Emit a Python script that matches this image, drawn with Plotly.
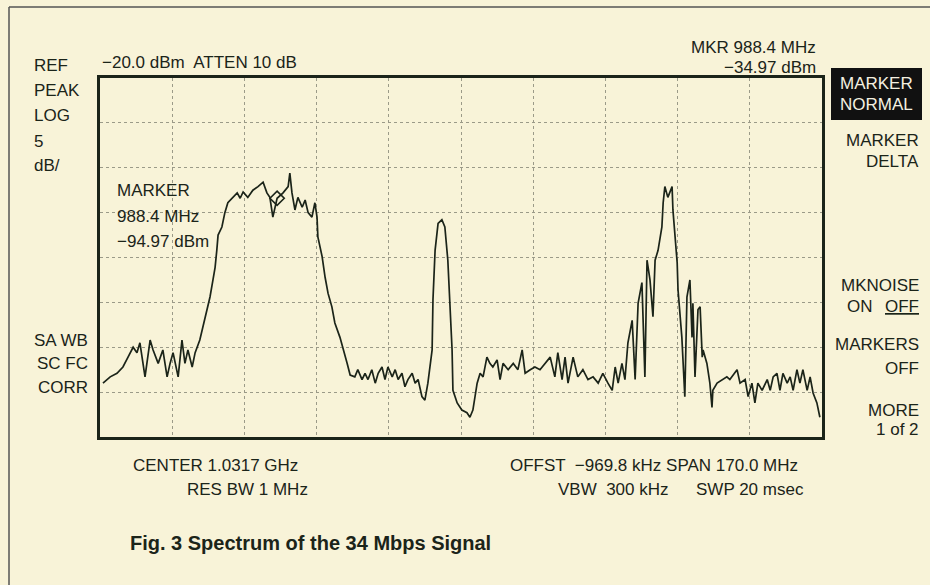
"""Spectrum analyzer screen: Fig. 3 Spectrum of the 34 Mbps Signal."""
import plotly.graph_objects as go

# Sweep settings
center_mhz = 1031.7
span_mhz = 170.0
ref_dbm = -20.0
db_per_div = 5.0

# Trace (frequency in MHz, level in dBm)
freq_mhz = [
    947.4, 949.1, 950.7, 952.1, 953.3, 954.5, 955.4, 956.1, 957.3, 958.5,
    959.2, 960.4, 961.5, 962.5, 963.2, 963.9, 965.1, 966.0, 966.7, 967.4,
    968.4, 969.1, 970.2, 971.0, 971.9, 972.6, 973.3, 973.8, 974.2, 974.5,
    975.4, 976.1, 976.8, 978.0, 979.0, 979.7, 980.4, 981.5, 982.7, 983.9,
    985.1, 986.0, 986.7, 987.4, 988.4, 989.8, 991.0, 991.4, 991.9, 992.6,
    993.3, 994.3, 995.0, 995.7, 996.6, 997.3, 997.8, 998.0, 999.0, 999.7,
    1000.4, 1001.3, 1002.0, 1003.2, 1003.9, 1004.9, 1005.6, 1006.7, 1007.4, 1008.4,
    1009.1, 1009.8, 1010.7, 1011.5, 1012.2, 1013.1, 1013.8, 1014.5, 1015.5, 1016.2,
    1016.9, 1017.8, 1018.5, 1019.2, 1020.2, 1020.9, 1021.6, 1022.5, 1023.2, 1023.9,
    1024.9, 1025.1, 1025.6, 1026.3, 1027.2, 1027.9, 1028.6, 1029.1, 1029.6, 1029.8,
    1030.8, 1031.9, 1033.1, 1033.8, 1034.5, 1035.5, 1036.2, 1036.9, 1037.8, 1038.5,
    1039.2, 1040.2, 1040.9, 1041.6, 1042.8, 1044.0, 1045.1, 1046.1, 1046.8, 1048.0,
    1049.1, 1050.3, 1051.5, 1052.7, 1053.8, 1054.5, 1055.5, 1056.2, 1056.9, 1058.1,
    1059.2, 1060.4, 1061.6, 1062.8, 1064.0, 1065.1, 1066.3, 1067.3, 1068.0, 1068.7,
    1069.6, 1070.3, 1071.0, 1072.0, 1072.7, 1073.4, 1074.3, 1075.0, 1075.5, 1076.2,
    1076.9, 1077.4, 1078.1, 1079.0, 1079.3, 1079.7, 1080.4, 1081.4, 1081.6, 1082.1,
    1082.6, 1082.8, 1083.7, 1084.4, 1084.9, 1085.6, 1086.1, 1086.3, 1086.8, 1087.5,
    1088.0, 1088.5, 1088.7, 1089.6, 1090.3, 1090.8, 1091.0, 1092.0, 1093.2, 1094.3,
    1095.0, 1096.7, 1097.4, 1098.6, 1099.3, 1100.2, 1100.9, 1101.6, 1102.6, 1103.8,
    1104.5, 1105.2, 1106.1, 1106.8, 1107.5, 1108.5, 1109.2, 1109.9, 1110.8, 1111.5,
    1112.2, 1113.2, 1113.9, 1114.6, 1115.5, 1116.2,
]
level_dbm = [
    -54.0, -53.3, -52.9, -52.2, -51.1, -50.0, -50.6, -49.5, -53.3, -49.2,
    -50.3, -51.8, -50.3, -53.3, -51.8, -50.6, -53.3, -49.2, -51.8, -50.3,
    -52.2, -50.6, -49.2, -47.7, -45.8, -44.4, -42.5, -41.1, -39.2, -37.5,
    -36.6, -35.0, -33.9, -33.3, -32.8, -33.4, -32.7, -33.3, -32.5, -32.1,
    -31.6, -32.8, -33.3, -35.5, -33.4, -32.8, -32.1, -30.6, -32.8, -34.7,
    -33.3, -34.4, -33.6, -35.0, -35.5, -33.9, -35.5, -37.7, -39.9, -42.2,
    -44.0, -45.5, -47.3, -48.9, -50.0, -51.8, -53.1, -53.3, -52.5, -53.6,
    -52.9, -53.6, -52.5, -54.0, -52.9, -52.2, -53.6, -52.2, -53.3, -52.5,
    -53.6, -52.9, -54.4, -53.6, -52.9, -54.0, -53.6, -55.5, -55.9, -54.0,
    -50.3, -44.7, -39.2, -36.2, -35.8, -36.6, -40.3, -44.7, -50.3, -54.8,
    -56.2, -57.0, -57.3, -57.8, -57.0, -54.0, -52.9, -53.3, -51.1, -51.8,
    -52.2, -51.4, -53.6, -51.8, -52.5, -51.8, -52.5, -50.3, -52.9, -52.5,
    -52.2, -52.5, -51.8, -51.1, -53.3, -50.6, -53.6, -51.1, -54.0, -51.1,
    -53.3, -52.5, -53.6, -53.3, -54.0, -52.9, -54.0, -54.8, -52.2, -54.0,
    -51.8, -53.6, -49.5, -47.0, -53.6, -45.1, -42.8, -53.3, -40.3, -42.5,
    -46.6, -40.3, -39.2, -36.6, -33.9, -32.1, -33.3, -32.1, -34.7, -37.3,
    -40.6, -43.6, -48.9, -55.5, -44.4, -42.5, -48.9, -45.1, -53.3, -45.8,
    -45.5, -51.1, -50.3, -51.8, -54.0, -56.7, -54.8, -54.0, -53.6, -53.3,
    -53.6, -52.5, -54.0, -53.6, -55.5, -54.0, -56.2, -54.0, -54.8, -53.6,
    -54.8, -53.3, -52.9, -54.8, -52.9, -54.0, -53.3, -54.8, -52.5, -54.0,
    -52.5, -54.8, -53.3, -55.1, -56.2, -57.8,
]

marker_freq = [988.4]
marker_level = [-33.4]

PAPER = '#f8f3d8'
INK = '#1b2419'
FONT = 'Liberation Sans, Arial, sans-serif'

# plot area in window pixels
L, R, T, B = 100, 822, 78, 437
W, H = 930, 585


def px(x):
    return (x - L) / (R - L)


def py(y):
    return 1 - (y - T) / (B - T)


f_start = center_mhz - span_mhz / 2
f_stop = center_mhz + span_mhz / 2

fig = go.Figure()
fig.add_trace(go.Scatter(
    x=freq_mhz, y=level_dbm, mode='lines',
    line=dict(color=INK, width=1.7), hoverinfo='skip', showlegend=False
))
fig.add_trace(go.Scatter(
    x=marker_freq, y=marker_level, mode='markers',
    marker=dict(symbol='diamond-open', size=11, color=INK, line=dict(width=1.6)),
    hoverinfo='skip', showlegend=False
))

labels = [
    ('REF', 32, 65, 'left'), ('PEAK', 32, 90, 'left'), ('LOG', 32, 115, 'left'),
    ('5', 32, 141, 'left'), ('dB/', 32, 165, 'left'),
    ('\u221220.0 dBm  ATTEN 10 dB', 100, 62, 'left'),
    ('MKR 988.4 MHz', 818, 48, 'right'), ('\u221234.97 dBm', 818, 67, 'right'),
    ('MARKER', 115, 190, 'left'), ('988.4 MHz', 115, 216, 'left'),
    ('\u221294.97 dBm', 115, 241, 'left'),
    ('MARKER', 921, 140, 'right'), ('DELTA', 921, 161, 'right'),
    ('MKNOISE', 921, 285, 'right'), ('ON', 845, 306, 'left'),
    ('<span style="text-decoration:underline">OFF</span>', 921, 306, 'right'),
    ('MARKERS', 921, 344, 'right'), ('OFF', 921, 368, 'right'),
    ('MORE', 921, 410, 'right'), ('1 of 2', 921, 429, 'right'),
    ('SA WB', 90, 340, 'right'), ('SC FC', 90, 363, 'right'), ('CORR', 90, 387, 'right'),
    ('CENTER 1.0317 GHz', 131, 465, 'left'), ('RES BW 1 MHz', 185, 489, 'left'),
    ('OFFST  \u2212969.8 kHz SPAN 170.0 MHz', 508, 465, 'left'),
    ('VBW  300 kHz', 556, 489, 'left'), ('SWP 20 msec', 806, 489, 'right'),
]
for text, x, y, anchor in labels:
    fig.add_annotation(
        text=text, x=px(x), y=py(y), xref='paper', yref='paper',
        xanchor=anchor, yanchor='middle', showarrow=False,
        font=dict(family=FONT, size=17, color=INK)
    )

# softkey highlighted in reverse video
fig.add_shape(type='rect', xref='paper', yref='paper',
              x0=px(831), x1=px(922), y0=py(68), y1=py(120),
              fillcolor='#111111', line=dict(width=0), layer='above')
for text, y in (('MARKER', 84), ('NORMAL', 105)):
    fig.add_annotation(
        text=text, x=px(876), y=py(y), xref='paper', yref='paper',
        xanchor='center', yanchor='middle', showarrow=False,
        font=dict(family=FONT, size=17, color='#f4f0e0')
    )

fig.add_annotation(
    text='<b>Fig. 3 Spectrum of the 34 Mbps Signal</b>',
    x=px(128), y=py(543), xref='paper', yref='paper',
    xanchor='left', yanchor='middle', showarrow=False,
    font=dict(family=FONT, size=20, color=INK)
)

# page border of the scanned box
fig.add_shape(type='line', xref='paper', yref='paper',
              x0=px(9), x1=px(9), y0=py(7), y1=py(585), line=dict(color='#555', width=1.5))
fig.add_shape(type='line', xref='paper', yref='paper',
              x0=px(9), x1=px(930), y0=py(7), y1=py(7), line=dict(color='#555', width=1.5))

fig.update_xaxes(
    range=[f_start, f_stop], tick0=f_start, dtick=span_mhz / 10,
    showticklabels=False, ticks='', zeroline=False,
    showgrid=True, gridcolor='#9b9a88', griddash='dot', gridwidth=1,
    showline=True, mirror=True, linecolor=INK, linewidth=2.5
)
fig.update_yaxes(
    range=[ref_dbm - 8 * db_per_div, ref_dbm], tick0=ref_dbm, dtick=db_per_div,
    showticklabels=False, ticks='', zeroline=False,
    showgrid=True, gridcolor='#9b9a88', griddash='dot', gridwidth=1,
    showline=True, mirror=True, linecolor=INK, linewidth=2.5
)
fig.update_layout(
    width=W, height=H, autosize=False,
    margin=dict(l=L, r=W - R, t=T, b=H - B),
    paper_bgcolor=PAPER, plot_bgcolor=PAPER,
    showlegend=False
)

# drop the browser's default body margin so the figure sits at the window origin
fig.write_html('out.html', config={'displayModeBar': False},
               post_script="document.body.style.margin='0';")
